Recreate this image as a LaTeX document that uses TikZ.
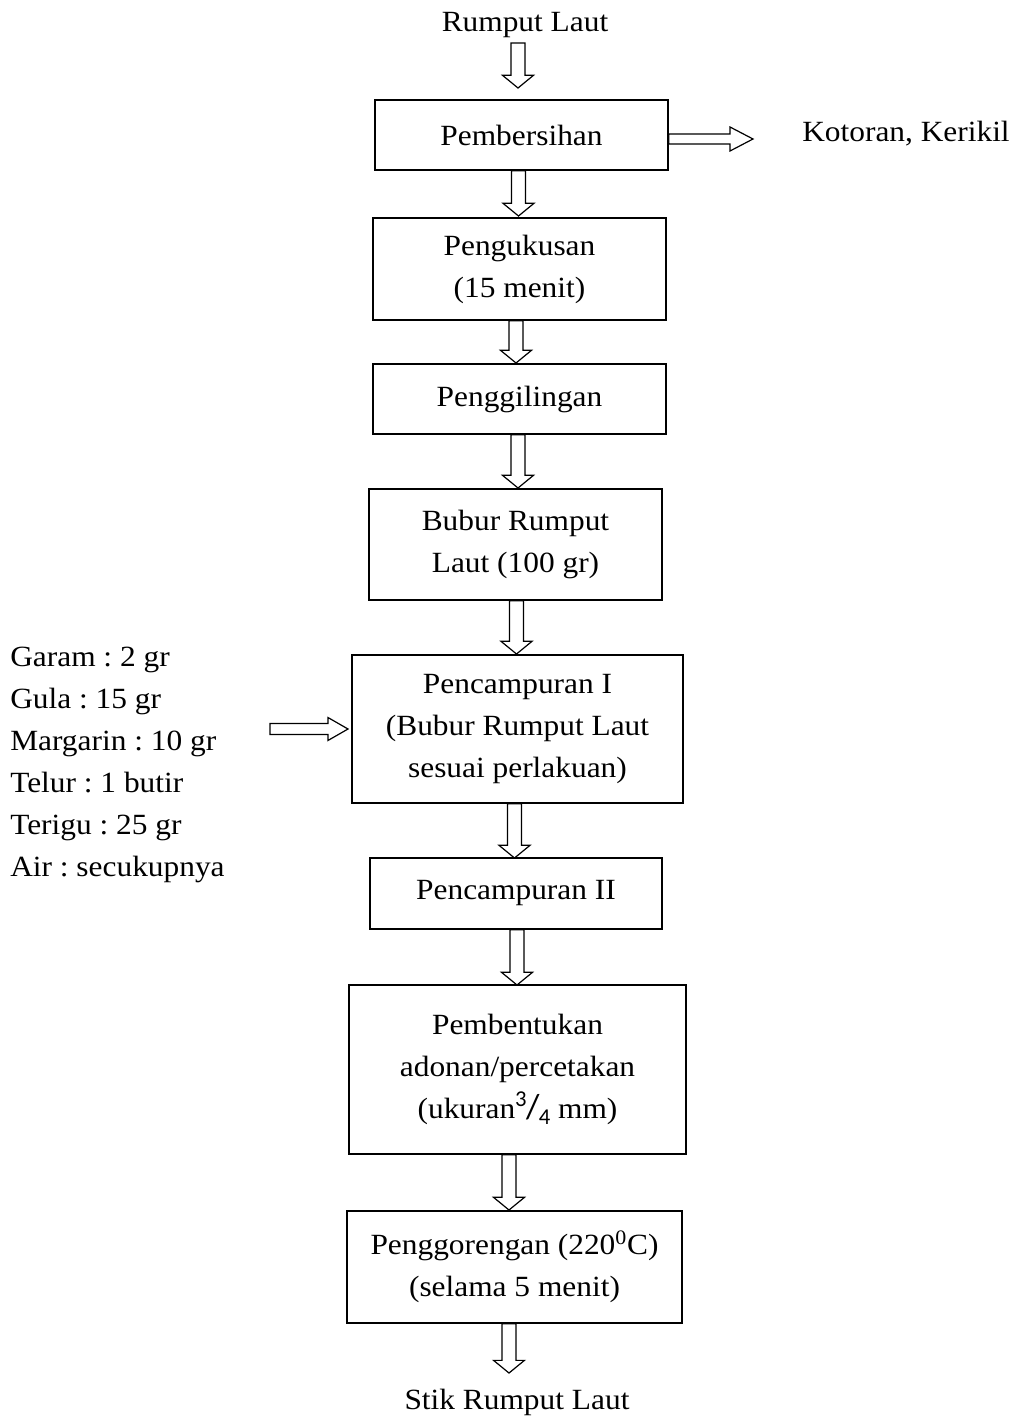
\documentclass[tikz,border=0pt]{standalone}
\usepackage{fontspec}
\setmainfont{Liberation Serif}[FakeStretch=1.07]
\newfontfamily\fracfont{Carlito}
\usetikzlibrary{calc}
\tikzset{
  txt/.style={align=center, inner sep=0pt, font=\fontsize{22}{31.5}\selectfont\frenchspacing},
  box/.style={txt, draw, line width=1.2pt},
  blk/.style={draw, line width=0.9pt, fill=white, line join=miter},
}
% vertical hollow block arrow: shaft starts at y of #1, tip at #2
\newcommand\vblk[2]{\draw[blk] let \p1=(#1), \p2=(#2) in
  (\x2-5.25pt,\y1) -- (\x2-5.25pt,\y2+9.5pt) -- (\x2-11.6pt,\y2+9.5pt) -- (\x2,\y2)
  -- (\x2+11.6pt,\y2+9.5pt) -- (\x2+5.25pt,\y2+9.5pt) -- (\x2+5.25pt,\y1) -- cycle;}
% horizontal hollow block arrow: #1 start, #2 tip, #3 shaft half, #4 head half, #5 head length
\newcommand\hblk[5]{\draw[blk] let \p1=(#1), \p2=(#2) in
  (\x1,\y2+#3) -- (\x2-#5,\y2+#3) -- (\x2-#5,\y2+#4) -- (\x2,\y2)
  -- (\x2-#5,\y2-#4) -- (\x2-#5,\y2-#3) -- (\x1,\y2-#3) -- cycle;}
\newcommand\threequarter{{\fracfont\raisebox{0.42em}{\fontsize{17}{17}\selectfont 3}\kern-0.5pt{\fontsize{26}{26}\selectfont/}\kern-0.5pt\raisebox{-0.22em}{\fontsize{17}{17}\selectfont 4}}}
\begin{document}
\begin{tikzpicture}[x=0.75pt,y=-0.75pt]
\useasboundingbox (0,0) rectangle (1014,1419);

\node[txt] (top) at (525,25) {Rumput Laut};
\node[box, minimum width=219.75pt, minimum height=52.5pt] (b1) at (521.5,135) {Pembersihan};
\node[box, minimum width=219.75pt, minimum height=76.5pt] (b2) at (519.5,269) {Pengukusan\\(15 menit)};
\node[box, minimum width=219.75pt, minimum height=52.5pt] (b3) at (519.5,399) {Penggilingan};
\node[box, minimum width=219.75pt, minimum height=83.25pt] (b4) at (515.5,544.5) {Bubur Rumput\\Laut (100 gr)};
\node[box, minimum width=248.25pt, minimum height=111pt] (b5) at (517.5,729) {Pencampuran I\\(Bubur Rumput Laut\\sesuai perlakuan)};
\node[box, minimum width=219pt, minimum height=53.25pt] (b6) at (516,893.5) {Pencampuran II};
\node[box, minimum width=252.75pt, minimum height=126.75pt] (b7) at (517.5,1069.5)
  {Pembentukan\\adonan/percetakan\\(ukuran\threequarter\ mm)};
\node[box, minimum width=251.25pt, minimum height=84pt] (b8) at (514.5,1267)
  {Penggorengan (220\textsuperscript{0}C)\\(selama 5 menit)};
\node[txt] (bot) at (517,1402) {Stik Rumput Laut};

\node[txt, anchor=west] (waste) at (802,134) {Kotoran, Kerikil};
\node[txt, anchor=west, align=left] (ingr) at (10,764.5)
  {Garam : 2 gr\\Gula : 15 gr\\Margarin : 10 gr\\Telur : 1 butir\\Terigu : 25 gr\\Air : secukupnya};

\coordinate (s0) at (518,43);
\coordinate (t0) at (518,88);
\coordinate (t1) at (518.5,216);
\coordinate (t2) at (516,363);
\coordinate (t3) at (518,488);
\coordinate (t4) at (516.5,654);
\coordinate (t5) at (514.5,858);
\coordinate (t6) at (517,985);
\coordinate (t7) at (509,1210);
\coordinate (t8) at (509,1373);
\coordinate (tr) at (753,139);
\coordinate (sl) at (270,729);
\coordinate (tl) at (348,729);

\vblk{s0}{t0}
\vblk{b1.south}{t1}
\vblk{b2.south}{t2}
\vblk{b3.south}{t3}
\vblk{b4.south}{t4}
\vblk{b5.south}{t5}
\vblk{b6.south}{t6}
\vblk{b7.south}{t7}
\vblk{b8.south}{t8}
\hblk{b1.east}{tr}{3.75pt}{9pt}{17.25pt}
\hblk{sl}{tl}{4.1pt}{8.6pt}{15pt}
\end{tikzpicture}
\end{document}
